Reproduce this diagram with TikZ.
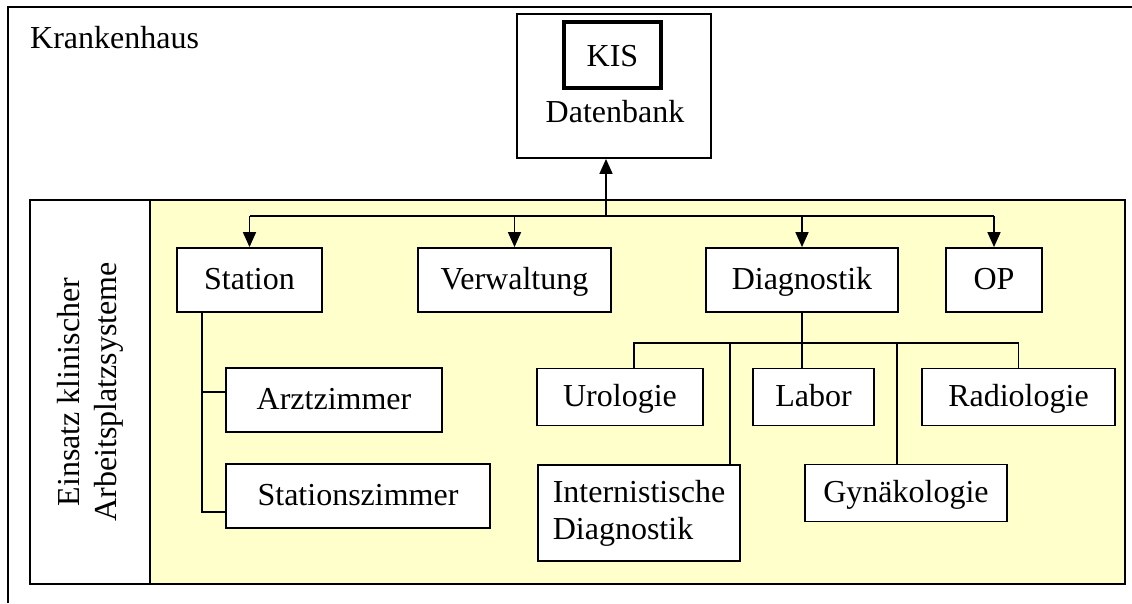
\documentclass[tikz,border=0pt]{standalone}
\usepackage{fontspec}
\setmainfont{Liberation Serif}
\usetikzlibrary{arrows.meta}
\definecolor{paleyellow}{HTML}{FFFFCC}
\begin{document}
\begin{tikzpicture}[x=1pt,y=-1pt,
  every node/.style={font=\fontsize{32}{37}\selectfont},
  unit/.style={draw,line width=1.8pt,fill=white,inner sep=0pt,
               text height=23pt,text depth=5pt,
               minimum width=#1,minimum height=64pt},
  unit/.default=150pt,
  small/.style={unit=#1,minimum height=57pt},
  link/.style={line width=1.6pt},
  feed/.style={link,-{Triangle[length=15pt,width=13pt]}},
  frame/.style={line width=2pt}]
\useasboundingbox (0,0) rectangle (1132,603);

% hospital frame (open at right and bottom)
\draw[frame] (8,603) -- (8,7) -- (1132,7);
\node[anchor=base west,inner sep=0pt] (haus) at (30,48) {Krankenhaus};

% workstation area
\fill[paleyellow] (150,200) rectangle (1125,584);
\draw[frame] (30,200) rectangle (1125,584);
\draw[frame] (150,200) -- (150,584);
\node[rotate=90,align=center] (einsatz) at (90,392)
  {Einsatz klinischer\\Arbeitsplatzsysteme};

% central database
\node[draw,line width=1.8pt,fill=white,minimum width=194pt,minimum height=144pt]
  (db) at (614,86) {};
\node[draw,line width=4pt,minimum width=97pt,minimum height=66pt,inner sep=0pt,
      text height=22pt,text depth=0pt]
  (kis) at (612.5,55) {KIS};
\node[anchor=base,inner sep=0pt] (dbtext) at (615,122) {Datenbank};

% departments
\node[unit=145pt] (station) at (249.5,280) {Station};
\node[unit=193pt] (verw)    at (514.5,280) {Verwaltung};
\node[unit=192pt] (diag)    at (802,280)   {Diagnostik};
\node[unit=96pt]  (op)      at (994,280)   {OP};

% station rooms
\node[unit=216pt] (arzt) at (334,400) {Arztzimmer};
\node[unit=264pt] (stz)  at (358,496) {Stationszimmer};

% diagnostic units
\node[small=166pt] (uro)   at (620,397)    {Urologie};
\node[small=121pt] (labor) at (813.5,397)  {Labor};
\node[small=193pt] (radio) at (1018.5,397) {Radiologie};
\node[small=202pt] (gyn)   at (906,493)    {Gynäkologie};
\node[unit=202pt,minimum height=96pt,align=left,text height=,text depth=]
  (intern) at (639,513) {Internistische\\Diagnostik};

% link to the database
\coordinate (hub) at (606,216);
\draw[feed] (hub) -- (hub |- db.south);
\draw[link] (station.north |- hub) -- (op.north |- hub);
\foreach \d in {station,verw,diag,op}
  \draw[feed] (\d.north |- hub) -- (\d.north);

% station branch
\coordinate (stspine) at ([xshift=-47.5pt]station.south);
\coordinate (arztin) at ([yshift=8pt]arzt.west);
\coordinate (stzin) at ([yshift=-16pt]stz.west);
\draw[link] (stspine) |- (stzin);
\draw[link] (stspine |- arztin) -- (arztin);

% diagnostic branch
\coordinate (bus) at (802,343);
\coordinate (urotop) at ([xshift=14pt]uro.north);
\coordinate (interntop) at ([xshift=91pt]intern.north);
\coordinate (gyntop) at ([xshift=-9pt]gyn.north);
\draw[link] (diag.south) -- (bus);
\draw[link] (urotop) |- (bus) -| (radio.north);
\draw[link] (labor.north -| bus) -- (bus);
\draw[link] (interntop) -- (interntop |- bus);
\draw[link] (gyntop) -- (gyntop |- bus);
\end{tikzpicture}
\end{document}
